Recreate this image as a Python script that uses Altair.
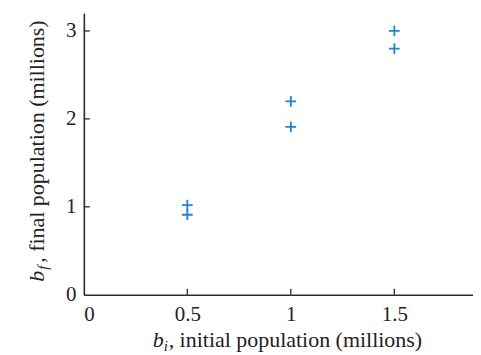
import altair as alt
import pandas as pd

# data
initial_pop = [0.5, 0.5, 1.0, 1.0, 1.5, 1.5]
final_pop = [1.02, 0.91, 2.20, 1.91, 3.00, 2.80]
x_ticks = [0, 0.5, 1, 1.5]
y_ticks = [0, 1, 2, 3]
x_inner_ticks = [0.5, 1, 1.5]
y_inner_ticks = [1, 2, 3]

pts = pd.DataFrame({"bi": initial_pop, "bf": final_pop})

FONT = "Times New Roman, Liberation Serif, DejaVu Serif, serif"
AX = "#2b2b2b"
BLUE = "#1f84d6"

xs = alt.Scale(domain=[0, 1.88], nice=False, zero=False)
ys = alt.Scale(domain=[0, 3.2], nice=False, zero=False)

x_axis = alt.Axis(values=x_ticks, format="~g", title=None, ticks=False, tickSize=0,
                  grid=False, domainColor=AX, domainWidth=1.6, labelFont=FONT,
                  labelFontSize=21, labelColor="#222", labelPadding=9)
y_axis = alt.Axis(values=y_ticks, format="~g", title=None, ticks=False, tickSize=0,
                  grid=False, domainColor=AX, domainWidth=1.6, labelFont=FONT,
                  labelFontSize=21, labelColor="#222", labelPadding=8)

points = alt.Chart(pts).mark_point(
    shape="M-1,0L1,0M0,-1L0,1", filled=False, size=115, strokeWidth=1.8,
    color=BLUE, opacity=1
).encode(
    x=alt.X("bi:Q", scale=xs, axis=x_axis),
    y=alt.Y("bf:Q", scale=ys, axis=y_axis),
)

xt = alt.Chart(pd.DataFrame({"v": x_inner_ticks})).mark_rule(color=AX, strokeWidth=1.3).encode(
    x=alt.X("v:Q", scale=xs), y=alt.value(282), y2=alt.value(276))
yt = alt.Chart(pd.DataFrame({"v": y_inner_ticks})).mark_rule(color=AX, strokeWidth=1.3).encode(
    y=alt.Y("v:Q", scale=ys), x=alt.value(0), x2=alt.value(6))

def txt(s, x, y, size=22, italic=False, angle=0):
    kw = dict(font=FONT, fontSize=size, color="#222", align="left", baseline="alphabetic")
    if italic:
        kw["fontStyle"] = "italic"
    if angle:
        kw["angle"] = angle
    return alt.Chart(pd.DataFrame({"t": [s]})).mark_text(**kw).encode(
        text="t:N", x=alt.value(x), y=alt.value(y))

# x title: b_i, initial population (millions)
xb = txt("b", 69, 334, italic=True)
xi = txt("i", 80, 338, size=15, italic=True)
xr = txt(", initial population (millions)", 85, 334)

# y title (rotated): b_f, final population (millions)
yb = txt("b", -40, 269, italic=True, angle=270)
yf = txt("f", -36, 257, size=15, italic=True, angle=270)
yr = txt(", final population (millions)", -40, 250, angle=270)

chart = alt.layer(points, xt, yt, xb, xi, xr, yb, yf, yr).properties(
    width=390, height=282,
    autosize=alt.AutoSizeParams(type="none"),
    padding={"left": 76, "top": 5, "right": 0, "bottom": 58},
    background="white",
).configure_view(stroke=None)

chart.save("out.html", embed_options={"renderer": "svg", "actions": False})
